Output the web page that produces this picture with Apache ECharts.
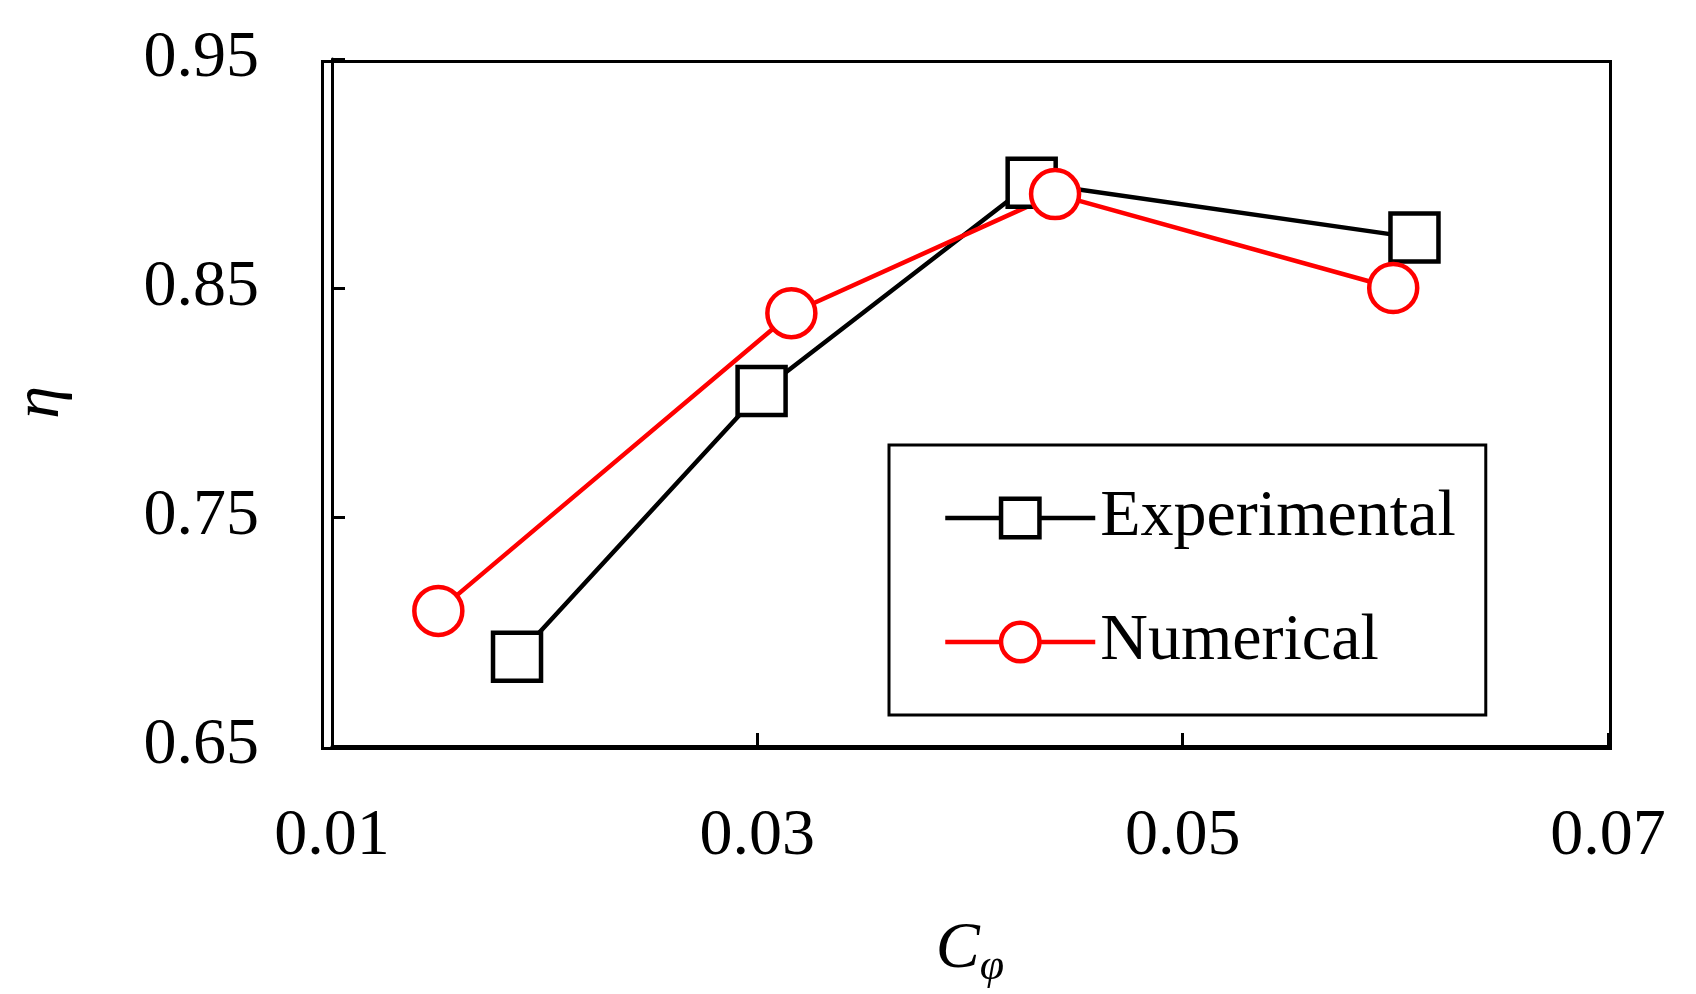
<!doctype html>
<html lang="en">
<head>
<meta charset="UTF-8">
<title>Efficiency vs flow coefficient</title>
<script src="https://cdn.jsdelivr.net/npm/echarts@6/dist/echarts.min.js"></script>
<style>
  html, body { margin: 0; padding: 0; background: #fff; }
  #chart { width: 1696px; height: 994px; }
</style>
</head>
<body>
<div id="chart"></div>
<script>
    // data
    const expX = [0.0187, 0.0302, 0.0429, 0.0609]
    const expY = [0.689, 0.805, 0.896, 0.872]
    const numX = [0.0150, 0.0316, 0.0440, 0.0599]
    const numY = [0.709, 0.839, 0.891, 0.850]
    const xTicks = [0.01, 0.03, 0.05, 0.07]
    const yTicks = [0.65, 0.75, 0.85, 0.95]

    const font = 'Liberation Serif'
    const fs = 66
    const chart = echarts.init(document.getElementById('chart'))

    const zip = (xs, ys) => xs.map((x, i) => [x, ys[i]])

    chart.setOption({
        animation: false,
        textStyle: { fontFamily: font },
        grid: { left: 320, right: 88, top: 59, bottom: 248 },
        xAxis: {
            type: 'value', min: xTicks[0], max: xTicks[xTicks.length - 1], interval: 0.02,
            axisLine: { lineStyle: { color: '#000', width: 3 } },
            axisTick: { inside: true, length: 13, lineStyle: { color: '#000', width: 3 } },
            axisLabel: { color: '#000', fontSize: fs, fontFamily: font, margin: 58,
                formatter: v => v.toFixed(2) },
            splitLine: { show: false },
            name: '{i|C}{s|φ}', nameLocation: 'middle', nameGap: 165,
            nameTextStyle: { rich: {
                i: { fontSize: fs, fontStyle: 'italic', fontFamily: font, color: '#000' },
                s: { fontSize: 44, fontStyle: 'italic', fontFamily: font, color: '#000', padding: [34, 0, 0, 0] }
            } }
        },
        yAxis: {
            type: 'value', min: yTicks[0], max: yTicks[yTicks.length - 1], interval: 0.1,
            axisLine: { show: true, lineStyle: { color: '#000', width: 3 } },
            axisTick: { inside: true, length: 13, lineStyle: { color: '#000', width: 3 } },
            axisLabel: { color: '#000', fontSize: fs, fontFamily: font, margin: 73,
                formatter: v => v.toFixed(2) },
            splitLine: { show: false },
            name: 'η', nameLocation: 'middle', nameGap: 258,
            nameTextStyle: { fontSize: fs, fontStyle: 'italic', fontFamily: font, color: '#000' }
        },
        // closed frame on top/right
        graphic: [{
            type: 'rect', left: 320, top: 59, shape: { width: 1288, height: 687 },
            style: { fill: 'none', stroke: '#000', lineWidth: 3 }, silent: true
        }],
        legend: {
            orient: 'vertical', left: 889, top: 445,
            width: 660, height: 259,
            padding: [40, 30, 40, 54], itemGap: 58,
            borderColor: '#000', borderWidth: 3,
            itemWidth: 150, itemHeight: 48,
            textStyle: { fontSize: fs, fontFamily: font, color: '#000' },
            data: [
                { name: 'Experimental', lineStyle: { width: 4.5 }, itemStyle: { borderWidth: 4.5 } },
                { name: 'Numerical', lineStyle: { width: 4.5 }, itemStyle: { borderWidth: 4.5 } }
            ]
        },
        series: [{
            name: 'Experimental', type: 'line', data: zip(expX, expY),
            symbol: 'rect', symbolSize: 48,
            lineStyle: { color: '#000', width: 4.5 },
            itemStyle: { color: '#fff', borderColor: '#000', borderWidth: 4.5 }
        }, {
            name: 'Numerical', type: 'line', data: zip(numX, numY),
            symbol: 'circle', symbolSize: 48,
            lineStyle: { color: '#f00', width: 4.5 },
            itemStyle: { color: '#fff', borderColor: '#f00', borderWidth: 4.5 }
        }]
    })
</script>
</body>
</html>
